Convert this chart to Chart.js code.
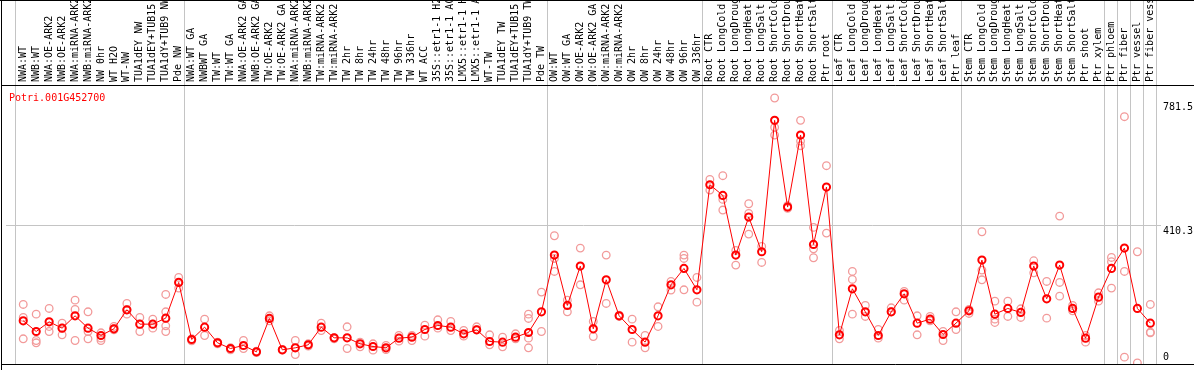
<!DOCTYPE html>
<html lang="en">
<head>
    <meta charset="UTF-8">
    <title>Potri.001G452700</title>
    <style>
        body {
            margin: 0;
            background: #ffffff;
        }
        #wrap {
            width: 1194px;
            height: 370px;
        }
    </style>
</head>
<body>
    <div id="wrap">
        <canvas id="expr-chart" width="1194" height="370"></canvas>
    </div>

    <script src="https://cdn.jsdelivr.net/npm/chart.js"></script>
    <script>
        const geneId = 'Potri.001G452700';

        const categories = [
            'NWA:WT', 'NWB:WT', 'NWA:OE-ARK2', 'NWB:OE-ARK2', 'NWA:miRNA-ARK2', 'NWB:miRNA-ARK2',
            'NW 0hr', 'WT H2O', 'WT-NW', 'TUA1dEY NW', 'TUA1dEY+TUB15 NW', 'TUA1dY+TUB9 NW', 'Pde NW',
            'NWA:WT GA', 'NWBWT GA', 'TW:WT', 'TW:WT GA', 'NWA:OE-ARK2 GA', 'NWB:OE-ARK2 GA',
            'TW:OE-ARK2', 'TW:OE-ARK2 GA', 'NWA:miRNA-ARK2 GA', 'NWB:miRNA-ARK2 GA', 'TW:miRNA-ARK2',
            'TW:miRNA-ARK2 GA', 'TW 2hr', 'TW 8hr', 'TW 24hr', 'TW 48hr', 'TW 96hr', 'TW 336hr', 'WT ACC',
            '35S::etr1-1 H2O', '35S::etr1-1 ACC', 'LMX5::etr1-1 H2O', 'LMX5::etr1-1 ACC', 'WT-TW',
            'TUA1dEY TW', 'TUA1dEY+TUB15 TW', 'TUA1dY+TUB9 TW', 'Pde TW',
            'OW:WT', 'OW:WT GA', 'OW:OE-ARK2', 'OW:OE-ARK2 GA', 'OW:miRNA-ARK2', 'OW:miRNA-ARK2 GA',
            'OW 2hr', 'OW 8hr', 'OW 24hr', 'OW 48hr', 'OW 96hr', 'OW 336hr',
            'Root CTR', 'Root LongCold', 'Root LongDrought', 'Root LongHeat', 'Root LongSalt',
            'Root ShortCold', 'Root ShortDrought', 'Root ShortHeat', 'Root ShortSalt', 'Ptr root',
            'Leaf CTR', 'Leaf LongCold', 'Leaf LongDrought', 'Leaf LongHeat', 'Leaf LongSalt',
            'Leaf ShortCold', 'Leaf ShortDrought', 'Leaf ShortHeat', 'Leaf ShortSalt', 'Ptr leaf',
            'Stem CTR', 'Stem LongCold', 'Stem LongDrought', 'Stem LongHeat', 'Stem LongSalt',
            'Stem ShortCold', 'Stem ShortDrought', 'Stem ShortHeat', 'Stem ShortSalt', 'Ptr shoot',
            'Ptr xylem', 'Ptr phloem', 'Ptr fiber', 'Ptr vessel', 'Ptr fiber vessel'
        ];

        // mean expression per sample (red line)
        const means = [
            126, 94, 123, 104, 141, 104, 82, 102, 159, 116, 116, 134, 241,
            70, 107, 60, 43, 52, 33, 133, 39, 45, 54, 107, 75, 75, 57, 49, 45, 74, 77, 100,
            112, 107, 87, 99, 64, 62, 77, 91, 153,
            323, 172, 290, 102, 249, 141, 100, 62, 141, 234, 283, 219,
            534, 502, 323, 437, 333, 727, 467, 683, 355, 527,
            84, 222, 153, 82, 153, 207, 119, 131, 85, 119,
            156, 308, 146, 163, 151, 290, 192, 293, 163, 74,
            197, 283, 344, 163, 119
        ];

        // individual replicates (pink circles)
        const replicates = [
            [175, 136, 72], [146, 67, 60], [163, 109, 94], [119, 104, 84], [188, 160, 67], [153, 94, 72],
            [90, 74, 67], [109, 102, 99], [178, 159, 146], [136, 116, 94], [131, 116, 104],
            [205, 153, 111, 94], [256, 241, 224],
            [72, 66], [131, 82], [62, 57], [45, 39], [67, 43], [35, 31], [141, 126], [40, 38],
            [67, 25], [57, 50], [119, 97], [75, 72], [108, 43], [62, 48], [57, 38], [52, 40],
            [82, 65], [82, 67], [113, 80], [129, 104], [124, 97], [97, 80], [108, 99], [84, 54],
            [77, 48], [87, 72], [146, 133, 74, 45], [212, 94],
            [381, 313, 274], [188, 153], [344, 234], [124, 79], [323, 178], [143, 139],
            [131, 62], [82, 45], [168, 109], [244, 218], [323, 313, 219], [256, 182],
            [550, 518], [561, 490, 458], [337, 293], [477, 448, 386], [349, 301],
            [794, 706, 683], [471, 463], [727, 665, 651], [406, 342, 315], [591, 389],
            [97, 72], [274, 250, 146], [172, 139], [100, 74], [165, 153],
            [214, 188], [141, 84], [139, 126], [94, 67], [153, 100],
            [160, 148], [393, 278, 249], [185, 131, 121], [185, 139], [162, 136],
            [306, 270], [244, 134], [440, 241, 200], [172, 156], [82, 62],
            [210, 185], [316, 303, 224], [738, 274, 17], [333, 0], [175, 92, 90]
        ];

        const yTickValues = [0, 410.3, 781.5];
        const yGridValue = 410.3;

        // vertical separators between sample groups (in category units)
        const groupEdges = [-0.64, 12.4, 40.4, 52.4, 62.4, 72.4, 83.4, 84.4, 85.4, 86.4, 87.4];

        const meanPoints = means.map((v, i) => ({ x: i, y: v }));
        const repPoints = [];
        replicates.forEach((reps, i) => reps.forEach(v => repPoints.push({ x: i, y: v })));

        Chart.defaults.font.family = "'DejaVu Sans Mono', monospace";
        Chart.defaults.font.size = 10;
        Chart.defaults.color = '#000';

        const framePlugin = {
            id: 'frame',
            beforeDatasetsDraw(chart) {
                const { ctx, chartArea, scales } = chart;
                ctx.save();
                ctx.strokeStyle = '#c4c4c4';
                ctx.lineWidth = 1;
                groupEdges.forEach(v => {
                    const px = Math.round(scales.x.getPixelForValue(v)) + 0.5;
                    ctx.beginPath();
                    ctx.moveTo(px, 0);
                    ctx.lineTo(px, chartArea.bottom);
                    ctx.stroke();
                });
                ctx.restore();
            },
            afterDraw(chart) {
                const { ctx, chartArea, width, height } = chart;
                ctx.save();
                ctx.strokeStyle = '#000';
                ctx.lineWidth = 1;
                ctx.beginPath();
                ctx.moveTo(0, 0.5); ctx.lineTo(width, 0.5);
                ctx.moveTo(1, chartArea.top + 0.5); ctx.lineTo(width, chartArea.top + 0.5);
                ctx.moveTo(1, chartArea.bottom + 0.5); ctx.lineTo(width, chartArea.bottom + 0.5);
                ctx.moveTo(1.5, 0); ctx.lineTo(1.5, height);
                ctx.stroke();
                ctx.fillStyle = '#ff0000';
                ctx.font = "10px 'DejaVu Sans Mono', monospace";
                ctx.textBaseline = 'alphabetic';
                ctx.fillText(geneId, 9, 101);
                ctx.restore();
            }
        };

        new Chart(document.getElementById('expr-chart'), {
            type: 'line',
            data: {
                datasets: [
                    {
                        label: 'mean',
                        data: meanPoints,
                        borderColor: '#ff0000',
                        borderWidth: 1,
                        tension: 0,
                        pointRadius: 3.6,
                        pointBorderWidth: 2,
                        pointBorderColor: '#ff0000',
                        pointBackgroundColor: 'rgba(0,0,0,0)',
                        order: 0
                    },
                    {
                        label: 'replicates',
                        data: repPoints,
                        showLine: false,
                        pointRadius: 3.8,
                        pointBorderWidth: 1.3,
                        pointBorderColor: '#f29a9a',
                        pointBackgroundColor: 'rgba(0,0,0,0)',
                        order: 1
                    }
                ]
            },
            options: {
                responsive: false,
                animation: false,
                layout: { padding: { left: 2, top: 0, right: 0, bottom: 1 } },
                plugins: {
                    legend: { display: false },
                    tooltip: { enabled: false }
                },
                scales: {
                    x: {
                        type: 'linear',
                        position: 'top',
                        bounds: 'data',
                        min: -1.3308,
                        max: 87.823,
                        grid: { display: false, drawTicks: false },
                        border: { display: false },
                        ticks: {
                            autoSkip: false,
                            minRotation: 90,
                            maxRotation: 90,
                            padding: 3,
                            labelOffset: 12,
                            color: '#000',
                            callback: v => categories[v]
                        },
                        afterBuildTicks: s => { s.ticks = categories.map((c, i) => ({ value: i })); },
                        afterFit: s => { s.height = 85; s.paddingLeft = 0; s.paddingRight = 0; }
                    },
                    y: {
                        type: 'linear',
                        position: 'right',
                        bounds: 'data',
                        min: -3.5,
                        max: 833,
                        grid: {
                            drawTicks: false,
                            color: c => (c.tick && c.tick.value === yGridValue) ? '#c4c4c4' : 'rgba(0,0,0,0)'
                        },
                        border: { display: false },
                        ticks: {
                            padding: 2,
                            color: '#000',
                            font: { lineHeight: 1 },
                            callback: v => v === 0 ? [String(v), ''] : ['', String(v)]
                        },
                        afterBuildTicks: s => { s.ticks = yTickValues.map(v => ({ value: v })); },
                        afterFit: s => { s.width = 33; s.paddingTop = 0; s.paddingBottom = 0; }
                    }
                }
            },
            plugins: [framePlugin]
        });
    </script>
</body>
</html>
